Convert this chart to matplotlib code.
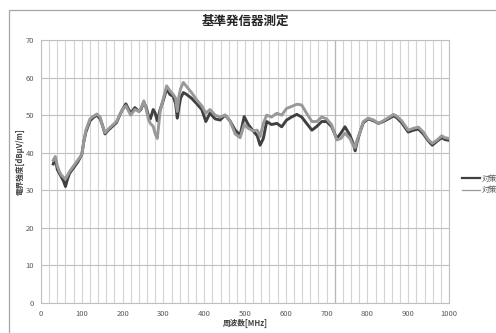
import matplotlib.pyplot as plt
from matplotlib.patches import Rectangle

plt.rcParams['font.family'] = ['Noto Sans CJK JP', 'DejaVu Sans']

# 周波数 [MHz]
freq = [30, 35, 40, 45, 50, 55, 60, 65, 70, 80, 90, 100, 105, 110, 120, 130, 137, 145,
        150, 157, 165, 175, 185, 195, 200, 208, 215, 220, 230, 240, 245, 252, 258, 263,
        268, 275, 280, 285, 292, 300, 308, 316, 324, 330, 334, 338, 342, 349, 357, 369,
        382, 394, 404, 414, 427, 439, 451, 463, 476, 488, 498, 508, 520, 530, 537, 545,
        553, 565, 578, 590, 602, 614, 627, 639, 651, 664, 676, 688, 700, 712, 725, 735,
        745, 757, 765, 770, 775, 782, 790, 802, 815, 827, 839, 851, 864, 872, 884, 900,
        913, 925, 937, 949, 959, 970, 982, 990, 1000]

# 対策前 [dBμV/m]
before = [37.0, 38.5, 35.5, 34.5, 33.5, 32.5, 31.0, 33.0, 34.5, 36.0, 37.5, 39.5, 43.0,
          45.5, 48.5, 49.5, 50.0, 49.0, 47.5, 45.0, 46.0, 47.0, 48.0, 50.5, 51.5, 53.0,
          51.5, 50.5, 52.0, 51.0, 51.5, 53.5, 52.0, 50.0, 49.0, 51.5, 50.5, 48.5, 51.5,
          54.0, 57.0, 55.5, 55.0, 53.0, 49.2, 52.0, 54.5, 56.0, 55.5, 54.5, 53.0, 51.5,
          48.3, 50.5, 49.0, 48.7, 50.0, 48.5, 46.0, 44.7, 49.6, 47.5, 45.8, 44.5, 42.0,
          43.8, 48.3, 47.5, 47.8, 46.9, 48.7, 49.5, 50.2, 49.5, 47.8, 46.0, 47.0, 48.3,
          48.3, 47.0, 43.8, 45.2, 46.9, 44.7, 42.5, 40.5, 43.0, 45.5, 48.0, 49.0, 48.5,
          47.8, 48.3, 49.0, 49.8, 49.3, 48.0, 45.5, 46.0, 46.3, 45.0, 43.2, 42.0, 43.0,
          44.0, 43.5, 43.3]

# 対策後 [dBμV/m]
after = [38.0, 39.0, 36.5, 35.0, 34.0, 33.5, 33.0, 34.0, 35.0, 36.5, 38.0, 39.5, 43.0,
         46.0, 49.0, 49.8, 50.3, 49.5, 47.5, 45.3, 46.3, 47.3, 48.3, 50.5, 51.5, 52.5,
         51.0, 50.0, 51.5, 51.0, 51.8, 53.8, 51.5, 49.0, 47.8, 47.0, 45.0, 43.8, 51.0,
         54.5, 57.8, 56.5, 55.5, 54.5, 51.0, 55.0, 57.0, 58.7, 57.6, 56.0, 54.0, 52.5,
         50.5, 51.5, 50.0, 49.5, 50.0, 48.5, 45.0, 44.0, 47.5, 46.5, 45.8, 46.0, 44.3,
         47.8, 50.0, 49.5, 50.5, 50.0, 51.8, 52.3, 52.9, 52.7, 50.5, 48.3, 48.3, 49.5,
         49.0, 47.5, 43.4, 43.8, 45.2, 43.8, 42.0, 41.3, 43.5, 45.5, 48.3, 49.2, 48.7,
         47.8, 48.5, 49.3, 50.2, 49.7, 48.5, 46.0, 46.5, 46.8, 45.5, 43.5, 42.5, 43.3,
         44.5, 44.0, 43.8]

fig = plt.figure(figsize=(4.96, 3.33), dpi=100)
fig.patch.set_facecolor('white')

# グラフエリアの枠
fig.patches.append(Rectangle((9 / 496, -0.1), 1.2, 1 - 10 / 333 + 0.1,
                             transform=fig.transFigure, fill=False,
                             edgecolor='#a6a6a6', linewidth=0.9))

ax = fig.add_axes([41 / 496, 30 / 333, 408 / 496, 263 / 333])

ax.set_xlim(0, 1000)
ax.set_ylim(0, 70)
ax.set_xticks(range(0, 1001, 100))
ax.set_yticks(range(0, 71, 10))
ax.set_xticks(range(0, 1001, 20), minor=True)

ax.grid(True, which='major', axis='y', color='#bfbfbf', linewidth=0.8)
ax.grid(True, which='both', axis='x', color='#d4d4d4', linewidth=0.8)
ax.axvline(720, color='#b8b8b8', linewidth=0.9, zorder=1)
ax.set_axisbelow(True)

for s in ax.spines.values():
    s.set_color('#bfbfbf')
    s.set_linewidth(0.8)

ax.tick_params(which='both', length=0, labelsize=5.5, labelcolor='#595959', pad=5)

ax.plot(freq, before, color='#404040', linewidth=2.1, label='対策前', zorder=3)
ax.plot(freq, after, color='#999999', linewidth=2.1, label='対策後', zorder=4)

fig.text(0.494, 0.935, '基準発信器測定', ha='center', va='center',
         fontsize=9, fontweight='bold', color='#262626')
fig.text(0.494, 0.03, '周波数[MHz]', ha='center', va='center',
         fontsize=5.5, fontweight='bold', color='#404040')
fig.text(0.04, 0.515, '電界強度[dBμV/m]', ha='center', va='center', rotation=90,
         fontsize=5.5, fontweight='bold', color='#404040')

# 凡例は右端にはみ出す位置に置く
ax.legend(loc='upper left', bbox_to_anchor=(1.025, 0.5), frameon=False,
          fontsize=5.5, handlelength=2.3, handletextpad=0.3, labelspacing=0.5,
          labelcolor='#595959', borderaxespad=0)
leg = ax.get_legend()
leg.get_lines()[0].set_linewidth(1.6)
leg.get_lines()[1].set_linewidth(0.9)

fig.savefig('out.png', dpi=100)
